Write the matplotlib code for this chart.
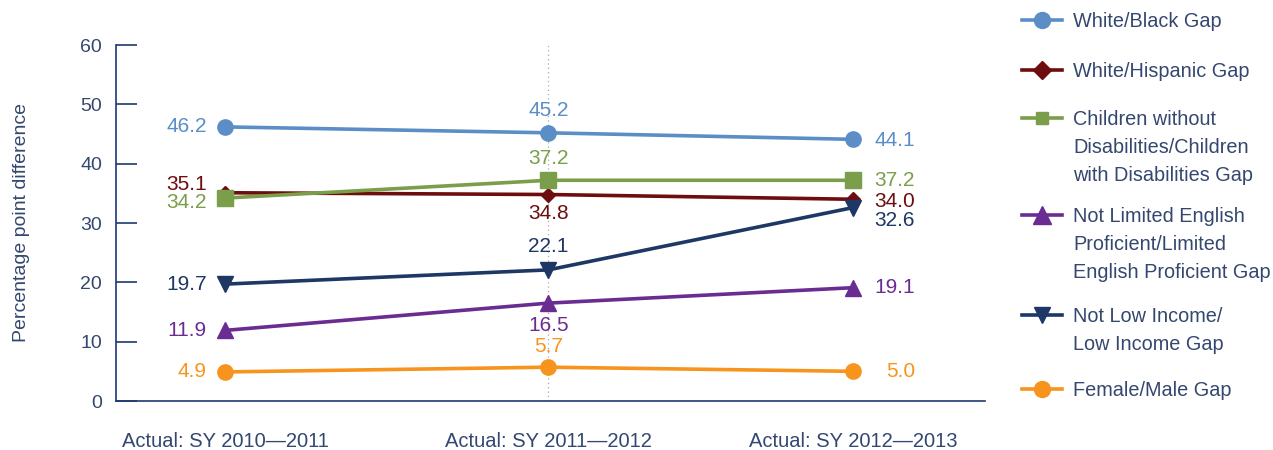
import matplotlib; matplotlib.use('Agg')
import matplotlib.pyplot as plt

plt.rcParams['font.family'] = ['Liberation Sans', 'DejaVu Sans']

# data
periods = ['Actual: SY 2010\u20142011', 'Actual: SY 2011\u20142012', 'Actual: SY 2012\u20142013']
white_black    = [46.2, 45.2, 44.1]
white_hispanic = [35.1, 34.8, 34.0]
disabilities   = [34.2, 37.2, 37.2]
lep            = [11.9, 16.5, 19.1]
low_income     = [19.7, 22.1, 32.6]
female_male    = [4.9, 5.7, 5.0]

# name, values, colour, marker, size on plot, size in legend
series = [
    ('White/Black Gap', white_black, '#5b8ec6', 'o', 11, 11.5),
    ('White/Hispanic Gap', white_hispanic, '#6e0d0d', 'D', 7, 9),
    ('Children without\nDisabilities/Children\nwith Disabilities Gap', disabilities, '#7b9e4b', 's', 11, 9),
    ('Not Limited English\nProficient/Limited\nEnglish Proficient Gap', lep, '#6a2c91', '^', 11, 13),
    ('Not Low Income/\nLow Income Gap', low_income, '#1e3765', 'v', 11, 12),
    ('Female/Male Gap', female_male, '#f7941d', 'o', 11, 11.5),
]
# layout: where the periods sit on the x axis, label offsets (points) per point
period_pos = [0, 1.03, 2]
offsets = [
    [(-13, 0, 'right'), (0, 16, 'center'), (44.6, -1, 'right')],
    [(-13, 6, 'right'), (0, -13.5, 'center'), (44.6, -1.5, 'right')],
    [(-13, -3.5, 'right'), (0, 16, 'center'), (44.6, 0, 'right')],
    [(-13, 0, 'right'), (0, -16, 'center'), (44.6, 0, 'right')],
    [(-13, 0, 'right'), (0, 16.5, 'center'), (44.6, -9.5, 'right')],
    [(-13, 0, 'right'), (0, 15, 'center'), (44.6, 0, 'right')],
]
legend_y = [20, 70, 118, 215, 315, 389]

NAVY = '#1f3a6e'
TXT = '#34476f'

fig = plt.figure(figsize=(12.73, 4.5), dpi=100)
ax = fig.add_axes([116/1273, 1-401/450, (985-116)/1273, (401-45)/450])

ax.axvline(period_pos[1], color='#aaaaaa', lw=0.9, ls=(0, (1, 2.5)), zorder=0)
for (name, vals, col, mk, ms, _), offs in zip(series, offsets):
    ax.plot(period_pos, vals, color=col, lw=2.6, marker=mk, ms=ms, mec=col, mfc=col, zorder=3)
    for xi, v, (dx, dy, ha) in zip(period_pos, vals, offs):
        ax.annotate(f'{v:.1f}', (xi, v), xytext=(dx, dy), textcoords='offset points',
                    ha=ha, va='center', fontsize=15, color=col)

ax.set_xlim(-0.347, 2.42); ax.set_ylim(0, 60)
ax.set_yticks(range(0, 61, 10))
ax.set_xticks(period_pos); ax.set_xticklabels(periods)
for s in ['top', 'right']: ax.spines[s].set_visible(False)
for s in ['left', 'bottom']: ax.spines[s].set_color(NAVY); ax.spines[s].set_linewidth(1.2)
ax.tick_params(axis='y', direction='in', length=15, width=1.2, color=NAVY, labelcolor=TXT,
               labelsize=14, pad=10)
ax.tick_params(axis='x', length=0, labelcolor=TXT, labelsize=14.5, pad=22)
ax.set_ylabel('Percentage point difference', fontsize=14, color=TXT, labelpad=36)

# legend drawn by hand so handles sit on the first line of each label
lg = fig.add_axes([0, 0, 1, 1]); lg.axis('off')
lg.set_xlim(0, 1273); lg.set_ylim(450, 0)
for (name, vals, col, mk, ms, lms), yy in zip(series, legend_y):
    lg.plot([1022, 1062], [yy, yy], color=col, lw=2.6)
    lg.plot([1042], [yy], marker=mk, ms=lms, color=col, lw=0)
    lg.text(1073, yy - 8, name, ha='left', va='top', fontsize=14.3, color=TXT, linespacing=1.6)

fig.savefig('out.png', dpi=100, facecolor='white')
